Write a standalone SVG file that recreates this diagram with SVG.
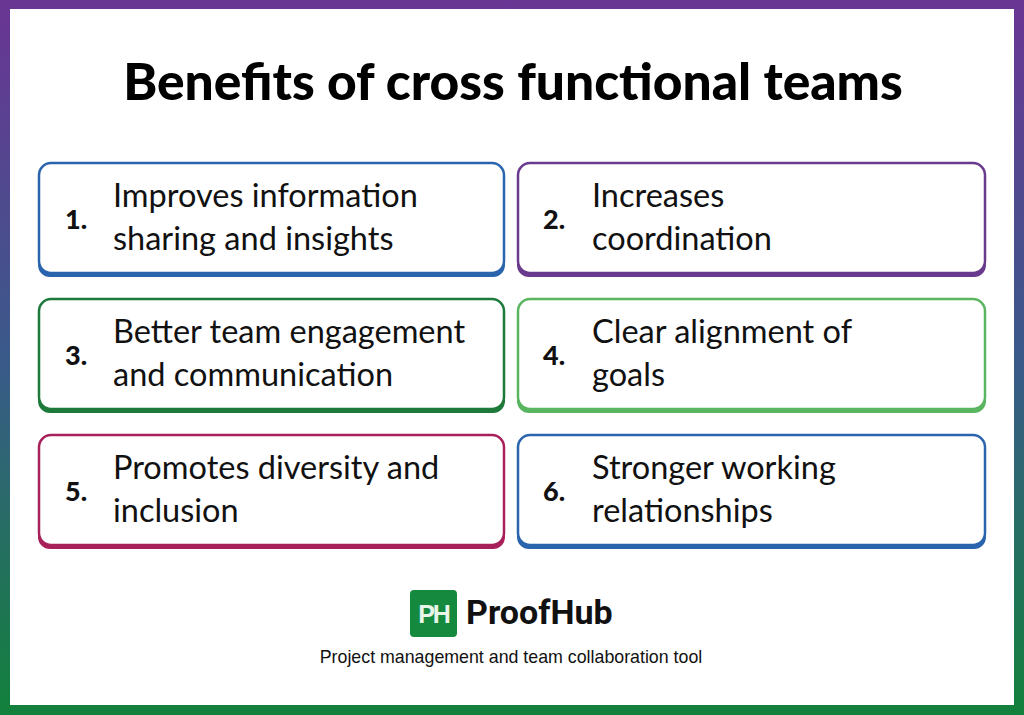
<svg xmlns="http://www.w3.org/2000/svg" width="1024" height="715" viewBox="0 0 1024 715">
<defs>
<linearGradient id="bg" x1="0" y1="0" x2="0" y2="1">
<stop offset="0" stop-color="#6a3594"/><stop offset="0.5" stop-color="#3a5a8a"/><stop offset="1" stop-color="#12813c"/>
</linearGradient>
<style>
.num{font-family:"Lato","Liberation Sans",sans-serif;font-weight:900;font-size:27px;fill:#111}
.txt{font-family:"Lato","Open Sans",sans-serif;font-size:32.5px;fill:#111}
.card{fill:#fff;stroke-width:2.5}
</style>
</defs>
<rect width="1024" height="715" fill="url(#bg)"/>
<rect x="10" y="9" width="1004" height="696" fill="#fff"/>
<text x="513" y="100" text-anchor="middle" font-family="Lato,'Liberation Sans',sans-serif" font-weight="900" font-size="51.5" fill="#000">Benefits of cross functional teams</text>
<g id="n1"><rect x="38" y="166" width="467" height="111" rx="12" fill="#2a64ad"/><rect class="card" x="39" y="163" width="465" height="110" rx="12" stroke="#2a64ad"/><text class="num" x="65" y="229">1.</text><text class="txt" x="113" y="207">Improves information</text><text class="txt" x="113" y="250">sharing and insights</text></g>
<g id="n2"><rect x="517" y="166" width="469" height="111" rx="12" fill="#6a3a8e"/><rect class="card" x="518" y="163" width="467" height="110" rx="12" stroke="#6a3a8e"/><text class="num" x="543" y="229">2.</text><text class="txt" x="592" y="207">Increases</text><text class="txt" x="592" y="250">coordination</text></g>
<g id="n3"><rect x="38" y="302" width="467" height="111" rx="12" fill="#1e7a3a"/><rect class="card" x="39" y="299" width="465" height="110" rx="12" stroke="#1e7a3a"/><text class="num" x="65" y="365">3.</text><text class="txt" x="113" y="343">Better team engagement</text><text class="txt" x="113" y="386">and communication</text></g>
<g id="n4"><rect x="517" y="302" width="469" height="111" rx="12" fill="#5ab560"/><rect class="card" x="518" y="299" width="467" height="110" rx="12" stroke="#5ab560"/><text class="num" x="543" y="365">4.</text><text class="txt" x="592" y="343">Clear alignment of</text><text class="txt" x="592" y="386">goals</text></g>
<g id="n5"><rect x="38" y="438" width="467" height="111" rx="12" fill="#a8205a"/><rect class="card" x="39" y="435" width="465" height="110" rx="12" stroke="#a8205a"/><text class="num" x="65" y="501">5.</text><text class="txt" x="113" y="479">Promotes diversity and</text><text class="txt" x="113" y="522">inclusion</text></g>
<g id="n6"><rect x="517" y="438" width="469" height="111" rx="12" fill="#2a64ad"/><rect class="card" x="518" y="435" width="467" height="110" rx="12" stroke="#2a64ad"/><text class="num" x="543" y="501">6.</text><text class="txt" x="592" y="479">Stronger working</text><text class="txt" x="592" y="522">relationships</text></g>
<g id="connectors"/>
<g id="logo">
<rect x="410" y="590" width="47" height="47" rx="4" fill="#158a3e"/>
<text x="433.5" y="623" text-anchor="middle" font-family="'Liberation Sans',sans-serif" font-weight="700" font-size="25" fill="#e8f5e8" letter-spacing="-2">PH</text>
<text x="466" y="624" font-family="Roboto,'Liberation Sans',sans-serif" font-weight="700" font-size="34" fill="#111">ProofHub</text>
<text x="511" y="663" text-anchor="middle" font-family="'Liberation Sans',Arial,sans-serif" font-size="17.8" fill="#111">Project management and team collaboration tool</text>
</g>
</svg>
